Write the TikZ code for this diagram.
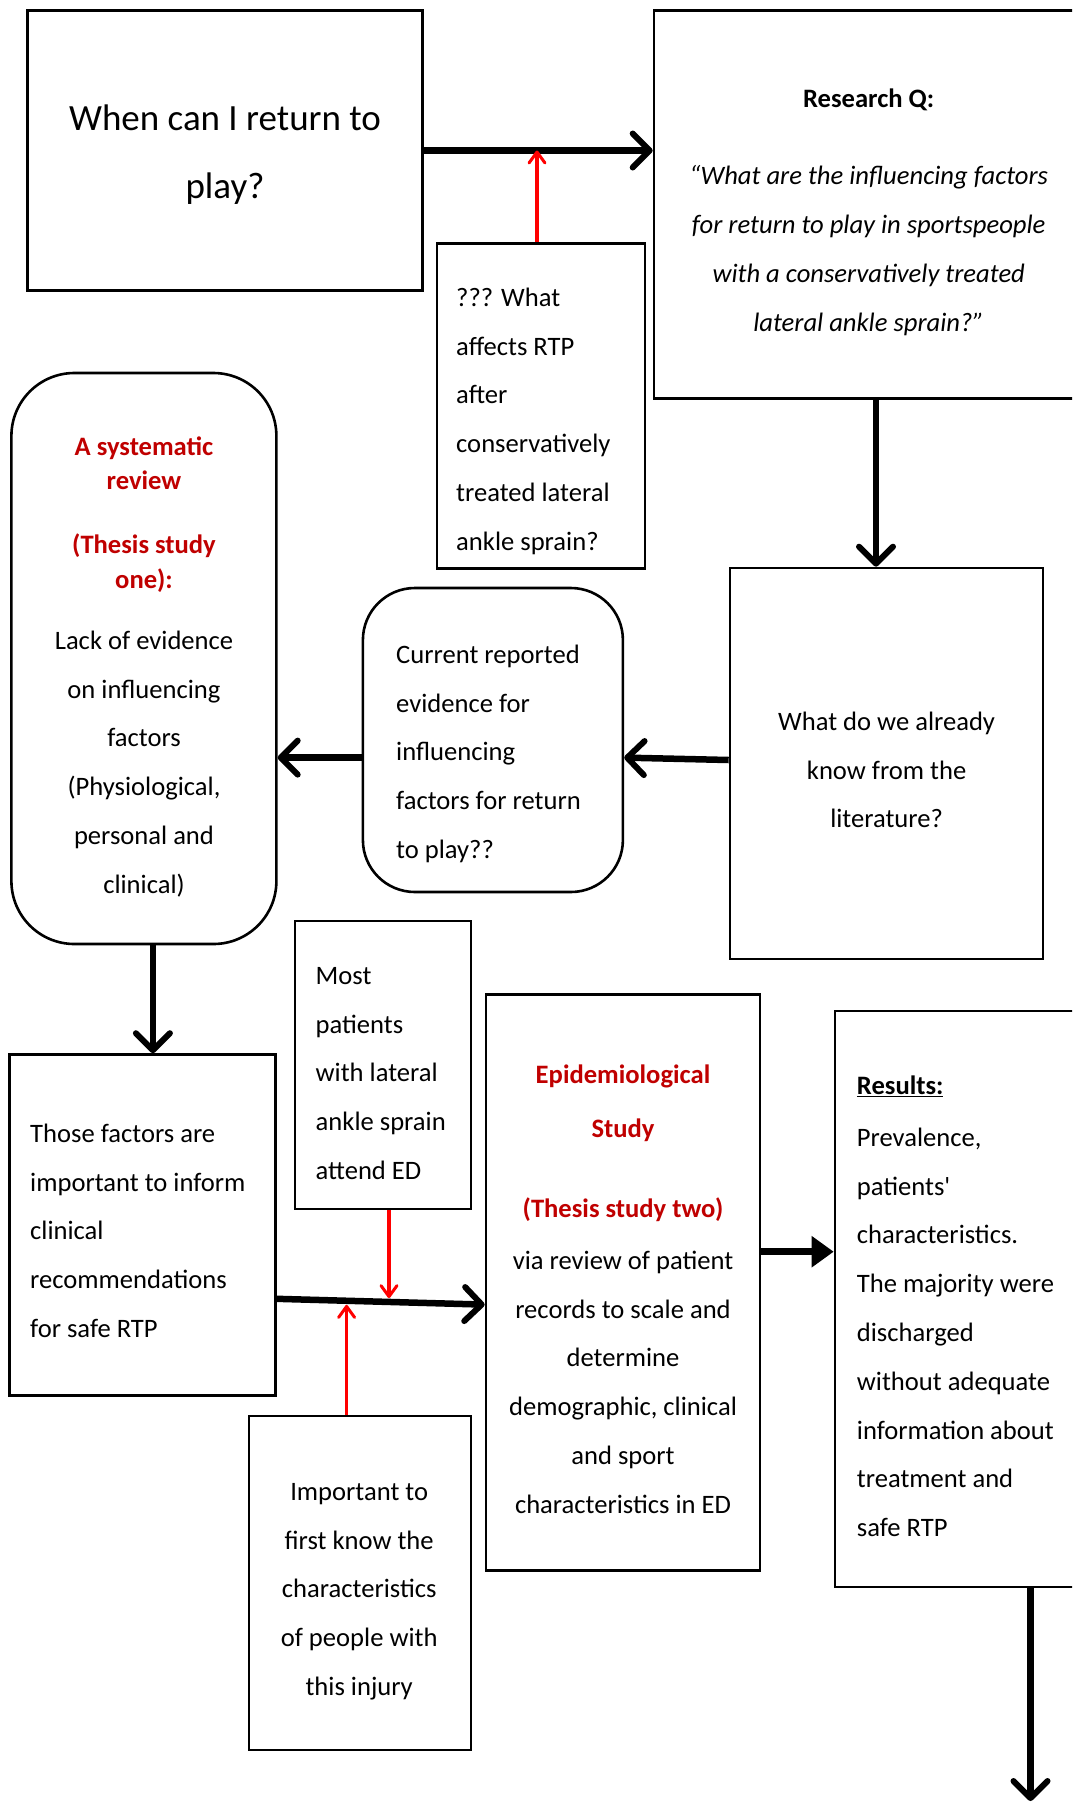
\documentclass[tikz,border=0pt]{standalone}
\usepackage{fontspec}
\setmainfont{Carlito}
\usetikzlibrary{arrows.meta}

\definecolor{headred}{HTML}{C00000}
\definecolor{linkred}{HTML}{FF0000}

% strut that fixes the top of the first line of each text block
\newcommand\firststrut{\rule{0pt}{20pt}}
\newcommand\bigstrut{\rule{0pt}{28pt}}

\tikzset{
  box/.style={draw=black, line width=2.6pt, fill=white, inner sep=0pt},
  thinbox/.style={box, line width=2.2pt},
  roundbox/.style={box, rounded corners=#1},
  txt/.style={inner sep=0pt, font=\fontsize{26.6}{48.8}\selectfont},
  lefttxt/.style={txt, align=left, anchor=north west},
  midtxt/.style={txt, align=center, anchor=north},
  redhead/.style={inner sep=0pt, align=center, anchor=north, text=headred,
    font=\fontsize{26.6}{#1}\selectfont\bfseries},
  flow/.style={draw=black, line width=6.5pt,
    -{Straight Barb[round, length=17pt, width=34pt, line width=6pt]}},
  solidflow/.style={draw=black, line width=7pt,
    -{Triangle[length=22pt, width=30pt]}},
  hint/.style={draw=linkred, line width=3.2pt,
    -{Straight Barb[round, length=11pt, width=16pt, line width=3pt]}},
}

\begin{document}
\begin{tikzpicture}[x=1pt, y=-1pt]
  \useasboundingbox (0,0) rectangle (1072,1805);
  \fill[white] (0,0) rectangle (1072,1805);
  \clip (0,0) rectangle (1072,1805);

  % ---------- boxes ----------
  \node[box, minimum width=395pt, minimum height=280pt] (A) at (225,150.5) {};
  \node[box, minimum width=431pt, minimum height=388pt] (B) at (869.5,204.2) {};
  \node[thinbox, minimum width=208pt, minimum height=325pt] (C) at (541,406) {};
  \node[box, minimum width=313pt, minimum height=391pt] (D) at (886.5,763.5) {};
  \node[roundbox=52pt, minimum width=260pt, minimum height=304pt] (E) at (492.9,740) {};
  \node[roundbox=63pt, minimum width=265pt, minimum height=571pt] (F) at (143.9,658.5) {};
  \node[box, minimum width=266pt, minimum height=341pt] (G) at (142.2,1225) {};
  \node[thinbox, minimum width=176pt, minimum height=288pt] (H) at (383,1065) {};
  \node[box, minimum width=274pt, minimum height=576pt] (I) at (623,1282.7) {};
  \node[thinbox, minimum width=222pt, minimum height=334pt] (J) at (360,1583) {};
  \node[box, minimum width=250pt, minimum height=576pt] (K) at (960,1298.9) {};

  % ---------- texts ----------
  \node[inner sep=0pt, align=center, anchor=north,
        font=\fontsize{37}{68}\selectfont] (A-t) at (225,102.7)
    {\bigstrut When can I return to\\play?};

  \node[txt, anchor=north, font=\fontsize{26.6}{48.8}\selectfont\bfseries] (B-h) at (868.7,87)
    {\firststrut Research Q:};
  \node[inner sep=0pt, align=center, anchor=north,
        font=\fontsize{26.6}{49.2}\selectfont\itshape] (B-t) at (868.7,164)
    {\firststrut “What are the influencing factors\\for return to play in sportspeople\\with a conservatively treated\\lateral ankle sprain?”};

  \node[lefttxt] (C-t) at (456,286)
    {\firststrut ??? What\\affects RTP\\after\\conservatively\\treated lateral\\ankle sprain?};

  \node[midtxt] (D-t) at (886.6,710)
    {\firststrut What do we already\\know from the\\literature?};

  \node[lefttxt] (E-t) at (396,643)
    {\firststrut Current reported\\evidence for\\influencing\\factors for return\\to play??};

  \node[redhead=34.5pt] (F-h) at (144,435)
    {\firststrut A systematic\\review\\[29.5pt](Thesis study\\one):};
  \node[midtxt] (F-t) at (144,629)
    {\firststrut Lack of evidence\\on influencing\\factors\\(Physiological,\\personal and\\clinical)};

  \node[lefttxt] (G-t) at (30,1122)
    {\firststrut Those factors are\\important to inform\\clinical\\recommendations\\for safe RTP};

  \node[lefttxt] (H-t) at (315.5,964)
    {\firststrut Most\\patients\\with lateral\\ankle sprain\\attend ED};

  \node[redhead=54pt] (I-h) at (623,1063)
    {\firststrut Epidemiological\\Study\\[26.6pt](Thesis study two)};
  \node[midtxt] (I-t) at (623,1249)
    {\firststrut via review of patient\\records to scale and\\determine\\demographic, clinical\\and sport\\characteristics in ED};

  \node[midtxt] (J-t) at (359.2,1480)
    {\firststrut Important to\\first know the\\characteristics\\of people with\\this injury};

  \node[lefttxt, font=\fontsize{26.6}{48.8}\selectfont\bfseries] (K-h) at (856.7,1074)
    {\firststrut\underline{Results:}};
  \node[lefttxt] (K-t) at (856.7,1126)
    {\firststrut Prevalence,\\patients\textquotesingle\\characteristics.\\The majority were\\discharged\\without adequate\\information about\\treatment and\\safe RTP};

  % ---------- connectors ----------
  \draw[flow] (A.east) -- (A.east -| B.west);
  \draw[flow] ([xshift=6.5pt]B.south) -- ([xshift=6.5pt]B.south |- D.north);
  \draw[flow] ([yshift=3.5pt]D.west) -- ([yshift=-17.6pt]E.east);
  \draw[flow] ([yshift=-17.6pt]E.west) -- ([yshift=-17.6pt]E.west -| F.east);
  \draw[flow] ([xshift=9pt]F.south) -- ([xshift=9pt]F.south |- G.north);
  \draw[flow] ([yshift=-73.8pt]G.east) -- ([yshift=-21.9pt]I.west);
  \draw[solidflow] ([yshift=31pt]I.east) -- ([yshift=31pt]I.east -| K.west);
  \coordinate (K-end) at ([xshift=70.5pt]K.south |- 0,1801);
  \draw[flow] ([xshift=70.5pt]K.south) -- (K-end);

  % red hints pointing at the arrows
  \draw[hint] ([xshift=-4pt]C.north) -- ([xshift=-4pt]C.north |- A.east);
  \draw[hint] ([xshift=6pt]H.south) -- ++(0,88);
  \draw[hint] ([xshift=-13.4pt]J.north) -- ++(0,-110);
\end{tikzpicture}
\end{document}
